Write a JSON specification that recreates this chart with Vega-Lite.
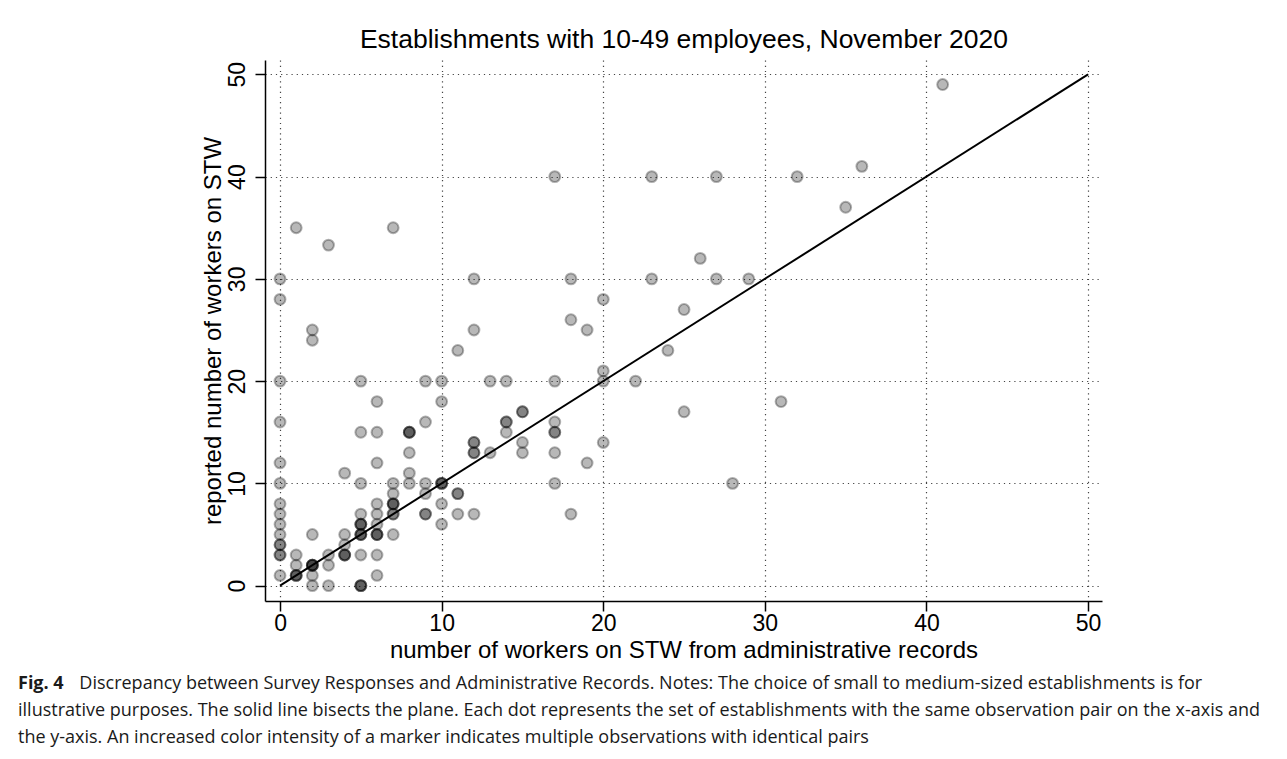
{
  "$schema": "https://vega.github.io/schema/vega-lite/v6.json",
  "width": 837,
  "height": 541,
  "autosize": "none",
  "padding": {"left": 265, "top": 60, "right": 185, "bottom": 158},
  "background": "white",
  "datasets": {
    "points": [
      {"admin":0,"reported":30},{"admin":0,"reported":28},{"admin":0,"reported":20},{"admin":0,"reported":16},{"admin":0,"reported":12},{"admin":0,"reported":10},{"admin":0,"reported":8},{"admin":0,"reported":7},{"admin":0,"reported":6},{"admin":0,"reported":5},{"admin":0,"reported":4},{"admin":0,"reported":4},{"admin":0,"reported":3},{"admin":0,"reported":3},{"admin":0,"reported":1},
      {"admin":1,"reported":35},{"admin":1,"reported":3},{"admin":1,"reported":2},{"admin":1,"reported":1},{"admin":1,"reported":1},{"admin":1,"reported":1},
      {"admin":2,"reported":25},{"admin":2,"reported":24},{"admin":2,"reported":5},{"admin":2,"reported":2},{"admin":2,"reported":2},{"admin":2,"reported":2},{"admin":2,"reported":2},{"admin":2,"reported":1},{"admin":2,"reported":0},
      {"admin":3,"reported":33.3},{"admin":3,"reported":3},{"admin":3,"reported":2},{"admin":3,"reported":0},
      {"admin":4,"reported":11},{"admin":4,"reported":5},{"admin":4,"reported":4},{"admin":4,"reported":3},{"admin":4,"reported":3},{"admin":4,"reported":3},
      {"admin":5,"reported":20},{"admin":5,"reported":15},{"admin":5,"reported":10},{"admin":5,"reported":7},{"admin":5,"reported":6},{"admin":5,"reported":6},{"admin":5,"reported":6},{"admin":5,"reported":5},{"admin":5,"reported":5},{"admin":5,"reported":5},{"admin":5,"reported":3},{"admin":5,"reported":0},{"admin":5,"reported":0},{"admin":5,"reported":0},
      {"admin":6,"reported":18},{"admin":6,"reported":15},{"admin":6,"reported":12},{"admin":6,"reported":8},{"admin":6,"reported":7},{"admin":6,"reported":6},{"admin":6,"reported":5},{"admin":6,"reported":5},{"admin":6,"reported":5},{"admin":6,"reported":3},{"admin":6,"reported":1},
      {"admin":7,"reported":35},{"admin":7,"reported":10},{"admin":7,"reported":9},{"admin":7,"reported":8},{"admin":7,"reported":8},{"admin":7,"reported":8},{"admin":7,"reported":7},{"admin":7,"reported":7},{"admin":7,"reported":5},
      {"admin":8,"reported":15},{"admin":8,"reported":15},{"admin":8,"reported":15},{"admin":8,"reported":13},{"admin":8,"reported":11},{"admin":8,"reported":10},
      {"admin":9,"reported":20},{"admin":9,"reported":16},{"admin":9,"reported":10},{"admin":9,"reported":9},{"admin":9,"reported":7},{"admin":9,"reported":7},
      {"admin":10,"reported":20},{"admin":10,"reported":18},{"admin":10,"reported":10},{"admin":10,"reported":10},{"admin":10,"reported":10},{"admin":10,"reported":8},{"admin":10,"reported":6},
      {"admin":11,"reported":23},{"admin":11,"reported":9},{"admin":11,"reported":9},{"admin":11,"reported":7},
      {"admin":12,"reported":30},{"admin":12,"reported":25},{"admin":12,"reported":14},{"admin":12,"reported":14},{"admin":12,"reported":13},{"admin":12,"reported":13},{"admin":12,"reported":7},
      {"admin":13,"reported":20},{"admin":13,"reported":13},
      {"admin":14,"reported":20},{"admin":14,"reported":16},{"admin":14,"reported":16},{"admin":14,"reported":15},
      {"admin":15,"reported":17},{"admin":15,"reported":17},{"admin":15,"reported":14},{"admin":15,"reported":13},
      {"admin":17,"reported":40},{"admin":17,"reported":20},{"admin":17,"reported":16},{"admin":17,"reported":15},{"admin":17,"reported":15},{"admin":17,"reported":13},{"admin":17,"reported":10},
      {"admin":18,"reported":30},{"admin":18,"reported":26},{"admin":18,"reported":7},
      {"admin":19,"reported":25},{"admin":19,"reported":12},
      {"admin":20,"reported":28},{"admin":20,"reported":21},{"admin":20,"reported":20},{"admin":20,"reported":14},
      {"admin":22,"reported":20},{"admin":23,"reported":40},{"admin":23,"reported":30},{"admin":24,"reported":23},{"admin":25,"reported":27},{"admin":25,"reported":17},{"admin":26,"reported":32},{"admin":27,"reported":40},{"admin":27,"reported":30},{"admin":28,"reported":10},{"admin":29,"reported":30},{"admin":31,"reported":18},{"admin":32,"reported":40},{"admin":35,"reported":37},{"admin":36,"reported":41},{"admin":41,"reported":49}
    ],
    "diag": [
      {"admin":0,"reported":0,"admin_end":50,"reported_end":50}
    ]
  },
  "title": {
    "text": "Fig. 4",
    "subtitle": [
      "\u2800\u2800\u2800\u2800\u00a0\u00a0Discrepancy between Survey Responses and Administrative Records. Notes: The choice of small to medium-sized establishments is for",
      "illustrative purposes. The solid line bisects the plane. Each dot represents the set of establishments with the same observation pair on the x-axis and",
      "the y-axis. An increased color intensity of a marker indicates multiple observations with identical pairs"
    ],
    "orient": "bottom",
    "anchor": "start",
    "frame": "group",
    "dx": -247,
    "offset": 13,
    "font": "Open Sans",
    "fontSize": 18,
    "fontWeight": "bold",
    "color": "#1a1a1a",
    "subtitleFont": "Open Sans",
    "subtitleFontSize": 18,
    "subtitleColor": "#1a1a1a",
    "subtitleLineHeight": 27,
    "subtitlePadding": -18
  },
  "layer": [
    {
      "data": {"name": "points"},
      "mark": {"type": "point", "shape": "circle", "filled": true, "fill": "#000", "fillOpacity": 0.28, "stroke": "#000", "strokeOpacity": 0.3, "strokeWidth": 2, "size": 118},
      "encoding": {
        "x": {
          "field": "admin", "type": "quantitative",
          "scale": {"domain": [-0.93, 50.86], "nice": false, "zero": false},
          "axis": {"orient": "bottom", "values": [0,10,20,30,40,50], "title": "number of workers on STW from administrative records", "grid": true, "labelPadding": 1, "labelBaseline": "top", "titleBaseline": "alphabetic", "titlePadding": 22}
        },
        "y": {
          "field": "reported", "type": "quantitative",
          "scale": {"domain": [-1.5, 51.4], "nice": false, "zero": false},
          "axis": {"values": [0,10,20,30,40,50], "title": "reported number of workers on STW", "grid": true, "labelAngle": -90, "labelAlign": "center", "labelBaseline": "alphabetic", "labelPadding": 11, "titleBaseline": "alphabetic", "titlePadding": 6}
        }
      }
    },
    {
      "data": {"name": "diag"},
      "mark": {"type": "rule", "color": "#000", "strokeWidth": 2},
      "encoding": {
        "x": {
          "field": "admin", "type": "quantitative",
          "scale": {"domain": [-0.93, 50.86], "nice": false, "zero": false},
          "axis": {"orient": "top", "title": "Establishments with 10-49 employees, November 2020", "labels": false, "ticks": false, "domain": false, "grid": false, "titleFontSize": 26.5, "titleBaseline": "alphabetic", "titlePadding": 13}
        },
        "y": {"field": "reported", "type": "quantitative"},
        "x2": {"field": "admin_end"},
        "y2": {"field": "reported_end"}
      }
    }
  ],
  "resolve": {"axis": {"x": "independent"}},
  "config": {
    "font": "Liberation Sans",
    "view": {"stroke": null},
    "axis": {
      "labelFont": "Liberation Sans", "titleFont": "Liberation Sans",
      "labelColor": "#000", "titleColor": "#000", "titleFontWeight": "normal",
      "domainColor": "#000", "domainWidth": 1.5, "tickColor": "#000", "tickWidth": 1.5, "tickSize": 10,
      "gridColor": "#444", "gridDash": [1.2, 4], "gridWidth": 1.2, "gridOpacity": 1,
      "labelFontSize": 23, "titleFontSize": 24, "zindex": 1, "labelFlush": false, "labelOverlap": false
    }
  }
}
